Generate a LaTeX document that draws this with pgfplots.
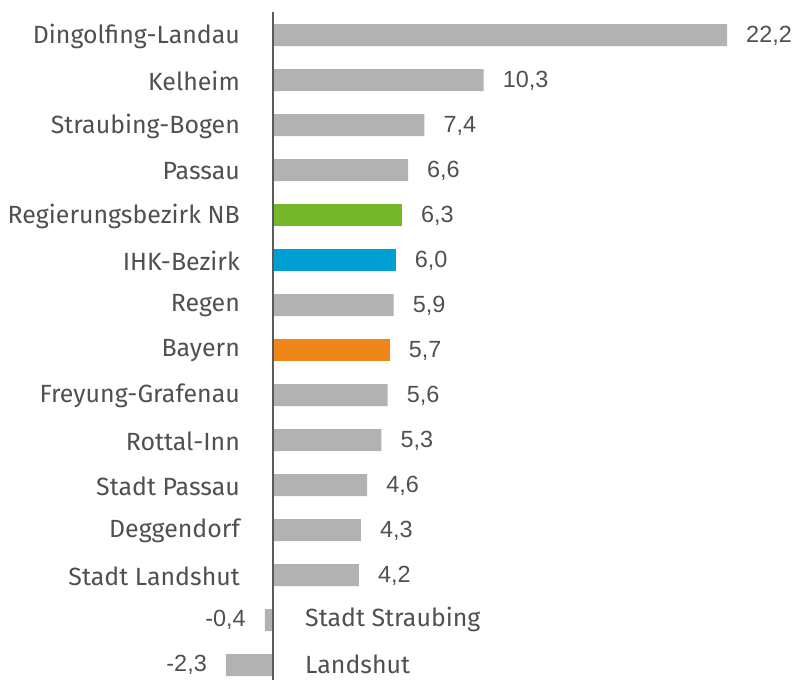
\documentclass[border=0pt]{standalone}
\usepackage{pgfplots}
\pgfplotsset{compat=1.18}
\usepackage{pgfplotstable}
\usepackage{fontspec}
\setmainfont{Fira Sans}
\newfontfamily\numfont{Liberation Sans}
\definecolor{barg}{HTML}{B2B2B2}
\definecolor{bargreen}{HTML}{76B72A}
\definecolor{barblue}{HTML}{009FD3}
\definecolor{barorange}{HTML}{F08519}
\definecolor{txt}{HTML}{505050}
\definecolor{axiscol}{HTML}{5A5A5A}

\pgfplotstableread[col sep=comma]{
row,val
0,22.2
1,10.3
2,7.4
3,6.6
6,5.9
8,5.6
9,5.3
10,4.6
11,4.3
12,4.2
}\graydata
\pgfplotstableread[col sep=comma]{
row,val
13,-0.4
14,-2.3
}\negdata
\pgfplotstableread[col sep=comma]{
row,x,name
0,0,Dingolfing-Landau
1,0,Kelheim
2,0,Straubing-Bogen
3,0,Passau
4,0,Regierungsbezirk NB
5,0,IHK-Bezirk
6,0,Regen
7,0,Bayern
8,0,Freyung-Grafenau
9,0,Rottal-Inn
10,0,Stadt Passau
11,0,Deggendorf
12,0,Stadt Landshut
}\leftnames
\pgfplotstableread[col sep=comma]{
row,x,name
13,0,Stadt Straubing
14,0,Landshut
}\rightnames

\begin{document}
\begin{tikzpicture}
\begin{axis}[
  width=798bp, height=680bp, scale only axis,
  xmin=-13.35, xmax=25.67, ymin=-0.778, ymax=14.333, y dir=reverse,
  hide axis, clip=false,
  /pgf/number format/.cd, use comma, fixed, fixed zerofill, precision=1, assume math mode=true,
  /pgfplots/.cd,
  posval/.style={xbar, bar width=22bp, bar shift=0pt, draw=none, point meta=x,
    nodes near coords,
    nodes near coords style={font=\numfont\fontsize{23.5}{28}\selectfont, text=txt, anchor=west, inner sep=0pt, xshift=19bp, yshift=-1bp}},
  negval/.style={xbar, bar width=22bp, bar shift=0pt, draw=none, point meta=x,
    nodes near coords,
    nodes near coords style={font=\numfont\fontsize{23.5}{28}\selectfont, text=txt, anchor=east, inner sep=0pt, xshift=-19bp, yshift=0bp}},
]
\addplot[posval, fill=barg] table[x=val, y=row] {\graydata};
\addplot[posval, fill=bargreen] coordinates {(6.3,4)};
\addplot[posval, fill=barblue] coordinates {(6.0,5)};
\addplot[posval, fill=barorange] coordinates {(5.7,7)};
\addplot[negval, fill=barg] table[x=val, y=row] {\negdata};
\addplot[only marks, mark=none, point meta=explicit symbolic, nodes near coords,
  nodes near coords style={font=\fontsize{25}{29}\selectfont, text=txt, anchor=east, inner sep=0pt, xshift=-33bp, yshift=-1bp}]
  table[x=x, y=row, meta=name] {\leftnames};
\addplot[only marks, mark=none, point meta=explicit symbolic, nodes near coords,
  nodes near coords style={font=\fontsize{25}{29}\selectfont, text=txt, anchor=west, inner sep=0pt, xshift=32bp, yshift=1bp}]
  table[x=x, y=row, meta=name] {\rightnames};
\draw[color=axiscol, line width=2bp] (axis cs:0,-0.511) -- (axis cs:0,14.333);
\end{axis}
\pgfresetboundingbox
\path (current axis.south west) rectangle (current axis.north east);
\end{tikzpicture}
\end{document}
